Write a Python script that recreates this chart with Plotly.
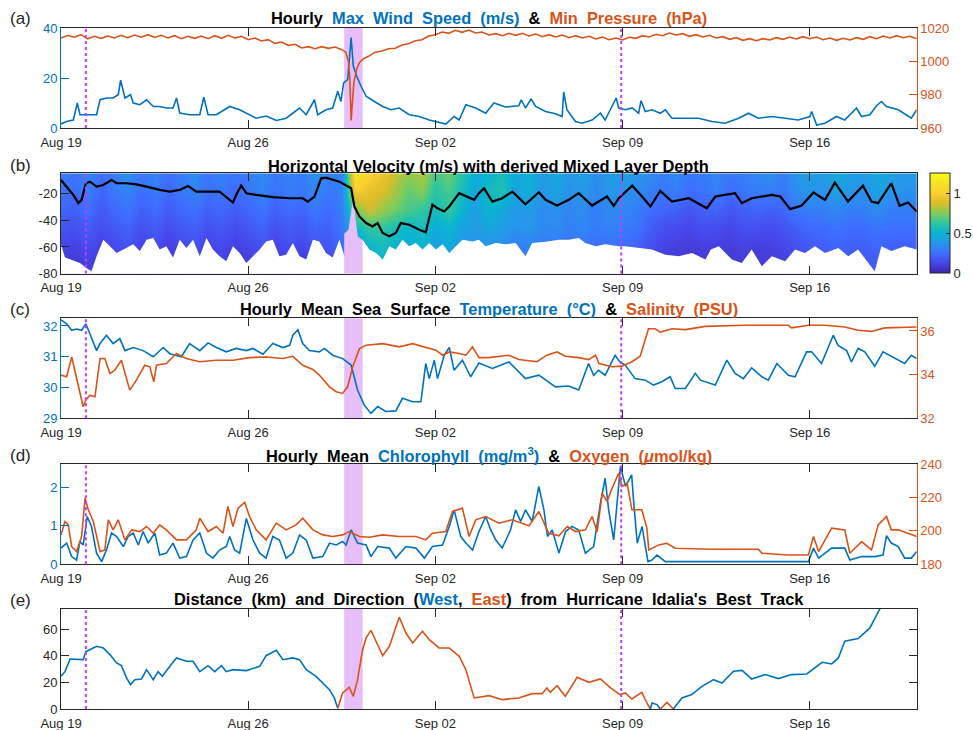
import pandas as pd
import plotly.graph_objects as go

# ---------------- DATA (time in days since 2023-08-19 00:00) ----------------
wind_t = [0,0.21,0.46,0.61,0.71,0.93,1.33,1.46,1.70,1.95,2.14,2.23,2.39,2.60,2.70,2.95,3.20,3.45,3.69,3.94,
          4.19,4.32,4.44,4.81,5.19,5.34,5.50,5.81,6.31,6.68,7.05,7.30,7.67,8.05,8.42,8.92,9.17,9.48,9.60,9.91,
          10.16,10.35,10.47,10.57,10.72,10.85,10.93,11.06,11.22,11.41,11.72,12.03,12.34,12.65,13.02,13.40,13.77,14.02,14.39,14.70,
          14.89,15.14,15.51,15.88,16.19,16.62,17.12,17.21,17.37,17.58,17.75,18.12,18.49,18.74,18.80,18.92,19.24,19.49,19.86,20.17,
          20.35,20.54,20.76,20.86,21.11,21.36,21.60,21.69,21.85,22.10,22.41,22.60,22.85,23.35,23.84,24.34,24.84,25.34,25.71,26.08,
          26.58,27.08,27.57,28.01,28.07,28.26,28.57,29.00,29.31,29.75,29.94,30.25,30.50,30.68,30.87,31.31,31.68,31.80,32.0]
wind_v = [1.6,2.6,3.2,10,5.3,5.3,5.3,11.3,12,12,13.3,19.1,12,13.3,10,9.3,11.3,8.6,8.6,8,
          8,12,6,5.3,5.3,12.3,5.3,5.3,8.6,7.3,5.3,3.9,4.8,3.0,3.9,8,5.3,11.3,5.3,7.3,
          8,14.7,10.6,18,19.4,36.2,24.8,20.7,16.7,12.7,10.6,8.6,7.3,8,5.3,4.6,3.2,2.6,1.6,4.6,
          3.2,9.3,8,5.9,10,8.4,8.9,11.3,8,11.6,8.6,6.6,5.7,4.6,14.4,7.3,2.6,1.9,3.2,5.9,
          3.2,7.3,12,8,7.3,8,5.9,10.9,6.6,7.3,5.9,7.3,3.9,3.9,3.9,2.6,1.9,3.9,5.9,3.9,
          4.6,3.9,3.2,4.6,6.6,1.2,1.9,4.6,3.2,8,4.6,5.3,8.9,10.6,8.6,7.3,4.6,3.9,7.3]

pres_t = [0,0.25,0.5,0.75,1.0,1.25,1.5,1.75,2.0,2.25,2.5,2.75,3.0,3.25,3.5,3.75,4.0,4.25,4.5,4.75,
          5.0,5.25,5.5,5.75,6.0,6.25,6.5,6.75,7.0,7.25,7.5,7.75,8.0,8.25,8.5,8.75,9.0,9.25,9.5,9.75,
          10.0,10.25,10.5,10.65,10.75,10.8,10.85,10.9,10.95,11.05,11.15,11.3,11.5,11.75,12.0,12.25,12.5,12.75,13.0,13.25,
          13.5,13.75,14.0,14.25,14.5,14.75,15.0,15.25,15.5,15.75,16.0,16.25,16.5,16.75,17.0,17.25,17.5,17.75,18.0,18.25,
          18.5,18.75,19.0,19.25,19.5,19.75,20.0,20.25,20.5,20.75,21.0,21.25,21.5,21.75,22.0,22.25,22.5,22.75,23.0,23.25,
          23.5,23.75,24.0,24.25,24.5,24.75,25.0,25.25,25.5,25.75,26.0,26.25,26.5,26.75,27.0,27.25,27.5,27.75,28.0,28.25,
          28.5,28.75,29.0,29.25,29.5,29.75,30.0,30.25,30.5,30.75,31.0,31.25,31.5,31.75,32.0]
pres_v = [1014.0,1015.5,1014.5,1016.0,1013.5,1015.0,1013.8,1015.2,1014.0,1015.6,1014.2,1015.8,1014.5,1016.0,1014.3,1015.6,1014.0,1015.4,1013.6,1015.0,
          1013.8,1015.2,1013.6,1015.4,1013.8,1015.6,1014.0,1015.0,1013.0,1014.0,1012.2,1013.0,1010.8,1011.6,1009.6,1010.2,1008.0,1008.8,1007.6,1008.8,
          1007.8,1008.6,1007.0,1005.5,1000.0,990.0,964.5,975.0,987.0,995.0,999.0,1001.5,1003.0,1005.5,1006.2,1007.6,1007.8,1009.8,1010.6,1012.4,
          1013.0,1015.2,1016.0,1017.6,1016.8,1018.6,1017.4,1018.8,1017.0,1017.6,1015.8,1016.6,1015.4,1016.8,1015.6,1016.8,1015.2,1016.4,1014.8,1016.0,
          1014.6,1015.8,1014.2,1015.4,1014.0,1015.0,1013.4,1014.6,1013.0,1014.0,1012.8,1014.4,1013.8,1015.4,1014.6,1016.2,1015.4,1017.0,1015.8,1016.6,
          1015.0,1016.0,1014.6,1015.6,1014.0,1014.8,1013.2,1014.2,1012.6,1013.6,1012.4,1013.6,1012.8,1014.2,1013.2,1014.6,1013.4,1014.8,1013.6,1014.6,
          1013.0,1014.0,1012.6,1013.8,1012.8,1014.2,1013.2,1014.8,1013.6,1015.2,1014.0,1015.4,1014.2,1015.0,1013.6]

# Horizontal velocity grid (m/s): columns every 12 h from day 0 to 32, rows = depths
vel_depth = [-4, -18, -32, -46, -60, -74]
vel = [
 [0.30,0.26,0.34,0.24,0.30,0.36,0.27,0.32,0.25,0.30,0.34,0.27,0.31,0.26,0.30,0.35,0.27,0.32,0.29,0.36,0.31,0.30,
  1.15,1.02,0.95,0.85,0.78,0.82,0.66,0.72,0.60,0.47,0.50,0.55,0.45,0.48,0.40,0.45,0.38,0.42,0.35,0.40,0.42,0.38,
  0.36,0.30,0.34,0.28,0.30,0.33,0.28,0.30,0.32,0.35,0.30,0.38,0.42,0.40,0.46,0.42,0.40,0.45,0.42,0.40,0.40],
 [0.27,0.24,0.30,0.22,0.28,0.32,0.25,0.29,0.23,0.28,0.31,0.25,0.28,0.24,0.27,0.32,0.25,0.29,0.27,0.33,0.28,0.30,
  0.98,0.92,0.88,0.80,0.70,0.76,0.60,0.66,0.55,0.44,0.55,0.58,0.42,0.47,0.37,0.44,0.35,0.39,0.33,0.38,0.37,0.34,
  0.30,0.27,0.30,0.24,0.26,0.30,0.24,0.27,0.30,0.30,0.27,0.35,0.38,0.36,0.42,0.38,0.36,0.42,0.38,0.36,0.36],
 [0.22,0.20,0.25,0.18,0.23,0.27,0.20,0.24,0.19,0.23,0.26,0.20,0.23,0.19,0.22,0.27,0.20,0.24,0.22,0.28,0.24,0.30,
  0.72,0.86,0.78,0.72,0.66,0.62,0.55,0.62,0.50,0.40,0.50,0.45,0.38,0.40,0.34,0.36,0.32,0.34,0.30,0.34,0.32,0.30,
  0.25,0.22,0.20,0.17,0.20,0.22,0.17,0.20,0.22,0.20,0.22,0.28,0.30,0.30,0.33,0.30,0.30,0.34,0.30,0.30,0.30],
 [0.17,0.15,0.19,0.14,0.18,0.21,0.15,0.19,0.14,0.18,0.20,0.15,0.18,0.14,0.17,0.21,0.15,0.19,0.17,0.22,0.20,0.28,
  0.50,0.62,0.62,0.56,0.50,0.55,0.45,0.50,0.42,0.40,0.44,0.40,0.36,0.38,0.33,0.34,0.30,0.33,0.29,0.31,0.29,0.27,
  0.20,0.15,0.14,0.12,0.15,0.14,0.12,0.15,0.15,0.14,0.16,0.20,0.23,0.24,0.26,0.24,0.24,0.27,0.25,0.25,0.25],
 [0.12,0.10,0.14,0.10,0.13,0.16,0.11,0.14,0.10,0.13,0.15,0.11,0.13,0.10,0.12,0.16,0.11,0.14,0.12,0.17,0.16,0.25,
  0.40,0.50,0.55,0.50,0.46,0.50,0.42,0.45,0.38,0.35,0.36,0.34,0.30,0.32,0.28,0.28,0.25,0.28,0.24,0.26,0.24,0.21,
  0.15,0.11,0.10,0.09,0.10,0.10,0.09,0.11,0.10,0.10,0.12,0.15,0.19,0.20,0.22,0.20,0.20,0.22,0.21,0.20,0.20],
 [0.09,0.08,0.10,0.08,0.10,0.12,0.08,0.11,0.08,0.10,0.12,0.08,0.10,0.08,0.09,0.12,0.08,0.11,0.09,0.13,0.12,0.20,
  0.32,0.42,0.48,0.44,0.40,0.44,0.36,0.40,0.33,0.30,0.31,0.28,0.25,0.26,0.23,0.23,0.20,0.23,0.19,0.21,0.19,0.17,
  0.12,0.09,0.08,0.07,0.08,0.08,0.07,0.09,0.08,0.08,0.10,0.12,0.16,0.17,0.18,0.17,0.17,0.19,0.18,0.17,0.17],
]

# deepest valid velocity bin (m)
valid_t = [0,0.15,0.34,0.71,0.96,1.14,1.33,1.58,1.83,2.08,2.33,2.70,2.95,3.20,3.45,3.69,3.94,4.19,4.44,4.69,
           4.94,5.19,5.44,5.68,5.93,6.18,6.43,6.68,6.93,7.18,7.43,7.67,7.92,8.17,8.42,8.67,8.92,9.17,9.42,9.66,
           9.91,10.16,10.41,10.60,10.80,11.00,11.28,11.53,11.78,12.03,12.28,12.52,12.77,13.02,13.27,13.52,13.77,14.02,14.27,14.52,
           14.76,15.01,15.39,15.63,15.88,16.26,16.63,17.0,17.37,17.62,18.12,18.62,18.99,19.36,19.61,20.0,20.35,20.86,21.1,21.6,
           22.1,22.6,23.1,23.6,24.1,24.3,24.6,25.09,25.46,25.83,26.21,26.58,27.08,27.45,27.82,28.2,28.57,29.07,29.44,29.81,
           30.31,30.43,30.68,31.05,31.55,32.0]
valid_v = [-58,-68,-69.5,-72,-76,-78.3,-67,-54.5,-59.5,-64.5,-62,-58,-63,-54.5,-53.3,-62,-59.5,-68,-54.5,-60.8,
           -54.5,-67,-53.3,-62,-67,-70.8,-59.5,-64.5,-72,-67,-62,-55.8,-54.5,-67,-65.8,-57,-67,-69.5,-54.5,-55.8,
           -64.5,-68,-54.5,-67,-60,-60,-54.5,-62,-64.5,-69.5,-59.5,-62,-54.5,-59.5,-57,-62,-57,-62,-58,-64.5,
           -59.5,-54.5,-55.8,-54.5,-59.5,-57,-58,-57,-67,-57,-56,-54.5,-54.5,-53.3,-57,-59.5,-58,-59.5,-59.5,-60.8,
           -62,-65.8,-67,-64.5,-69.5,-62,-59.5,-69.5,-72,-62,-74.5,-67,-70.8,-62,-64.5,-59.5,-64.5,-60.8,-67,-62,
           -74.5,-78.3,-59.5,-63,-59.5,-62]

# data gap during storm passage (top of gap)
gap_t = [10.59, 10.75, 10.86, 10.93, 11.0, 11.1, 11.28]
gap_v = [-50, -47, -32, -22, -36, -52, -55]

mld_t = [0,0.21,0.46,0.65,0.77,0.93,1.08,1.33,1.58,1.89,2.08,2.45,2.82,3.20,3.69,4.07,4.44,4.75,5.06,5.44,
         5.93,6.43,6.58,6.74,6.93,7.30,7.92,8.55,9.04,9.23,9.48,9.73,9.91,10.41,10.66,10.85,10.97,11.16,11.41,11.65,
         11.84,12.03,12.28,12.52,12.71,13.02,13.40,13.64,13.89,14.08,14.33,14.52,14.89,15.14,15.45,15.63,15.82,16.13,16.50,16.88,
         17.37,17.87,18.12,18.55,18.99,19.36,19.86,20.42,20.67,20.86,21.36,21.73,22.04,22.41,22.85,23.48,24.15,24.47,25.21,25.46,
         25.83,26.58,26.90,27.27,27.70,28.14,28.57,28.94,29.43,29.99,30.31,30.56,31.05,31.36,31.68,32.0]
mld_v = [-9.5,-14.5,-20.8,-27,-24.5,-12,-10.8,-14.5,-13.3,-9.5,-12,-12,-12.8,-14.5,-17,-18.3,-17,-14,-18.3,-18.3,
         -18.3,-26.5,-19.5,-13.8,-19.5,-20.8,-22.5,-23.3,-23.3,-25.8,-22,-8.3,-7.8,-10.8,-13.3,-15.8,-29.5,-37,-42,-44.5,
         -42,-49.5,-52,-49.5,-42,-43.3,-47,-49,-28.3,-30.8,-33.3,-29.5,-19.5,-22,-24.5,-19.5,-15.8,-25.8,-23.3,-18.3,
         -27.8,-18.8,-24.5,-28.8,-24.5,-19.5,-28.8,-22,-29,-23.3,-13.8,-22,-29.5,-17.8,-25.8,-23.3,-30.8,-22,-19.5,-27,
         -23.3,-20.8,-22,-31.5,-28.8,-19,-24.5,-11.5,-25.8,-13.8,-25.8,-27,-12,-29,-26.5,-33.3]

temp_t = [0,0.21,0.40,0.58,0.77,0.93,1.08,1.33,1.46,1.70,1.95,2.20,2.39,2.70,3.07,3.45,3.82,4.07,4.50,4.81,
          5.19,5.50,5.81,6.18,6.55,6.93,7.18,7.55,7.92,8.30,8.55,8.67,8.86,9.04,9.29,9.66,9.85,10.16,10.53,10.85,
          11.09,11.34,11.59,11.84,12.15,12.52,12.77,13.15,13.46,13.64,13.77,13.96,14.08,14.33,14.52,14.70,15.01,15.32,15.63,16.13,
          16.75,17.37,17.87,18.49,18.98,19.36,19.73,19.92,20.10,20.35,20.72,20.90,21.10,21.47,21.85,22.16,22.47,22.78,22.97,23.35,
          23.72,23.91,24.47,24.90,25.21,25.52,25.83,26.21,26.45,26.77,27.20,27.45,27.88,28.07,28.44,28.88,29.06,29.38,29.56,29.81,
          30.06,30.43,30.74,31.18,31.55,31.80,32.0]
temp_v = [32.2,32.07,31.86,31.9,31.86,32.07,31.75,31.2,31.43,31.7,31.43,31.59,31.2,31.3,31.2,31.0,31.3,31.1,31.0,31.43,
          31.2,31.45,31.3,31.16,31.27,31.2,31.27,31.08,31.43,31.3,31.37,31.7,31.88,31.43,31.2,31.16,31.27,31.05,30.94,30.73,
          29.92,29.43,29.16,29.38,29.22,29.24,29.65,29.54,29.54,30.78,30.29,30.89,30.29,31.05,31.3,30.56,30.89,30.35,30.8,30.62,
          30.83,30.29,30.4,30.02,30.05,29.92,30.78,30.4,30.56,30.4,31.05,30.83,30.73,30.29,30.24,30.08,30.19,30.35,29.97,29.97,
          30.46,30.24,30.08,30.89,30.46,30.29,30.64,30.35,30.24,30.78,30.4,30.35,31.16,31.16,30.78,31.7,31.37,31.2,30.83,31.27,
          31.16,30.69,31.16,30.94,30.78,31.05,30.94]

sal_t = [0,0.21,0.40,0.58,0.83,0.93,1.08,1.27,1.46,1.64,1.83,2.01,2.26,2.57,2.82,3.13,3.32,3.47,3.57,3.94,
         4.32,4.69,5.19,5.81,6.43,7.05,7.67,8.30,8.67,9.04,9.42,9.66,10.04,10.29,10.53,10.72,10.91,11.16,11.41,12.03,
         12.65,13.15,13.64,14.02,14.27,14.52,14.89,15.14,15.39,15.63,16.0,16.75,17.12,17.80,18.17,18.55,18.86,19.36,19.73,19.99,
         20.12,20.61,20.98,21.35,21.66,21.79,21.97,22.22,22.41,22.85,23.35,24.09,25.58,27.2,27.32,27.95,28.57,29.31,29.81,30.31,
         30.80,32.0]
sal_v = [33.98,33.9,34.81,33.9,32.53,32.84,33.06,32.99,34.74,34.74,34.05,34.2,34.66,33.29,33.75,34.43,34.36,33.67,34.43,34.51,
         34.97,34.74,34.59,34.66,34.66,34.78,34.81,34.74,34.84,34.43,34.24,33.98,33.44,33.22,33.14,33.44,34.36,35.19,35.35,35.42,
         35.27,35.42,35.27,35.12,34.89,35.04,34.97,34.89,35.27,34.78,34.78,34.89,34.69,34.59,34.89,35.04,34.84,34.78,34.69,34.89,
         34.51,34.36,34.39,34.59,34.84,35.42,36.1,36.1,35.95,36.1,36.06,36.21,36.26,36.26,36.14,36.26,36.26,36.18,36.03,35.98,
         36.14,36.18]

chl_t = [0,0.21,0.40,0.58,0.71,0.83,0.98,1.14,1.33,1.52,1.70,1.89,2.08,2.33,2.51,2.70,2.89,3.07,3.26,3.51,
         3.69,3.94,4.19,4.44,4.69,4.94,5.19,5.44,5.68,5.93,6.18,6.31,6.49,6.68,6.93,7.18,7.43,7.67,7.92,8.17,
         8.42,8.67,8.92,9.17,9.42,9.79,10.04,10.29,10.53,10.66,10.85,11.09,11.41,11.59,11.84,12.28,12.52,12.90,13.27,13.59,
         13.89,14.27,14.52,14.70,14.95,15.14,15.39,15.63,15.88,16.07,16.26,16.50,16.81,17.0,17.19,17.37,17.62,17.87,18.06,18.19,
         18.37,18.62,18.87,19.11,19.36,19.61,19.92,20.17,20.35,20.48,20.67,20.80,20.92,21.11,21.34,21.42,21.55,21.73,21.85,21.95,
         22.10,22.29,22.60,24.34,26.83,27.95,28.14,28.33,28.82,29.31,29.50,29.94,30.43,30.74,30.87,31.05,31.31,31.55,31.80,32.0]
chl_v = [0.42,0.55,0.2,0.11,0.59,0.5,1.24,0.98,0.29,0.07,0.37,0.81,0.72,0.46,0.72,0.81,0.5,0.85,0.55,0.81,
         0.24,0.29,0.55,0.16,0.2,0.63,0.81,0.29,0.16,0.37,0.46,0.72,0.37,0.29,1.19,0.63,0.29,0.16,0.72,0.63,
         0.16,0.29,0.76,0.63,0.16,0.2,0.55,0.5,0.59,0.5,0.89,0.55,0.5,0.2,0.46,0.42,0.16,0.46,0.42,0.16,
         0.46,0.5,0.98,1.41,0.72,0.55,0.37,0.85,1.24,0.89,0.63,0.42,0.89,1.41,1.11,1.41,1.11,2.02,1.41,0.72,
         0.89,0.29,0.85,0.98,0.89,0.29,0.46,1.58,2.23,1.41,0.63,1.63,2.54,2.02,2.32,1.58,0.55,0.98,0.46,0.07,
         0.11,0.24,0.07,0.07,0.07,0.07,0.42,0.16,0.42,0.42,0.11,0.2,0.2,0.24,0.74,0.55,0.46,0.16,0.16,0.33]

oxy_t = [0,0.15,0.27,0.40,0.58,0.77,0.90,1.02,1.21,1.46,1.64,1.77,1.95,2.14,2.39,2.64,2.95,3.20,3.45,3.69,
         3.94,4.32,4.69,5.06,5.19,5.50,5.81,6.06,6.24,6.43,6.62,6.87,7.05,7.30,7.67,8.05,8.42,8.79,9.04,9.42,
         9.79,10.16,10.53,10.78,11.16,11.53,12.03,12.65,13.27,13.64,13.89,14.39,14.64,15.01,15.26,15.51,15.88,16.38,16.87,17.25,
         17.50,17.87,18.24,18.62,18.93,19.24,19.61,19.86,20.05,20.24,20.42,20.61,20.86,20.98,21.17,21.35,21.72,21.91,21.98,22.35,
         22.66,22.97,24.34,26.08,26.21,27.20,27.95,28.14,28.33,28.82,29.31,29.50,29.94,30.31,30.56,30.87,31.05,31.31,31.68,32.0]
oxy_v = [197.6,205.6,203.6,190.6,187.6,196.6,219.6,212.6,205.6,187.6,188.6,206.6,200.6,206.6,194.6,200.6,199.6,202.6,198.6,203.6,
         200.6,194.6,194.6,200.6,207.6,199.6,202.6,198.6,214.6,202.6,213.6,217,208.6,200.6,194.6,204.6,200.6,203.6,207.6,200.6,
         197.6,196.6,197.6,199.6,196.6,196.2,197.6,196.6,196.6,194.6,198.6,199.6,211.6,213.6,196.6,206.6,208.6,204.6,206.6,204.6,
         203,211.6,198.6,197,202.6,199.6,200.6,208.6,199.6,222.6,217.6,225.6,234.6,226.6,228.6,212.6,212.6,201.6,188.6,191.6,
         192.6,189.6,189,189,186.6,185.6,185.6,196.6,187.6,201.6,200.6,186.6,193.6,188.6,203.6,208.6,200.6,200.6,198.6,196.6]

dist_t = [0,0.15,0.34,0.58,0.83,0.93,1.08,1.33,1.58,1.83,2.08,2.26,2.45,2.6,2.76,3.01,3.2,3.45,3.63,3.79,
          4.07,4.32,4.69,4.94,5.19,5.5,5.75,6.0,6.18,6.43,6.93,7.43,7.67,8.05,8.3,8.67,8.92,9.17,9.54,9.79,
          10.04,10.22,10.35,
          10.53,10.78,10.93,11.09,11.28,11.41,11.59,11.78,12.03,12.28,12.46,12.65,12.9,13.15,13.52,13.77,14.14,14.52,14.89,15.14,
          15.45,15.76,16.01,16.5,17.12,17.62,17.99,18.17,18.3,18.55,18.86,19.3,19.74,20.17,20.55,20.9,21.1,21.35,21.72,21.91,22.04,
          22.1,22.29,22.41,
          22.66,22.9,
          23.22,23.59,23.97,24.4,24.72,25.15,25.47,25.83,26.33,26.83,27.32,27.89,28.46,28.82,29.07,29.31,29.81,30.25,30.62,30.9]
dist_km = [24.5,28,37.5,37,37,43,44.5,47,45.8,40.8,34.5,32.5,23.3,18.3,22,22.5,29.5,22,28,24.5,
           32,38.3,35.8,35.8,28,32.5,28,32.5,28,29.5,28.8,32,40,44,37,38.3,37,29.5,24.5,19.5,
           14.5,8.3,0.5,
           12,16.3,9.5,22,44.5,53.3,59,50.8,40,47,57,68.8,57,49.5,58.3,52,45.8,45.8,39.5,29.5,
           8.3,9.5,10,7,8.3,11.5,11.5,15.8,12.5,17.5,9.5,23.8,20,22.5,15.8,10.8,12,7.5,12.5,4.5,0,
           4.5,3.3,0,
           5,0,
           8.3,10.8,17,22,19.5,28.3,29,22.5,25.8,22.8,25.8,26.3,35,33.8,38.3,50.8,52.8,60.8,75,82]
dist_side = (['W'] * 43 + ['E'] * 41 + ['W'] * 3 + ['E'] * 2 + ['W'] * 20)

storm_window = [10.59, 11.28]        # shaded: hurricane passage
glider_marks = [0.93, 20.95]         # dotted vertical markers
tick_days = [0, 7, 14, 21, 28]
tick_text = ['Aug 19', 'Aug 26', 'Sep 02', 'Sep 09', 'Sep 16']
x_span_days = [0, 32]

# ---------------- STYLE ----------------
BLUE = '#0072BD'
ORANGE = '#D95319'
DARK = '#262626'
VIOLET = '#E8BEFA'
MAGENTA = '#C03CFF'
FONT = 'Liberation Sans, Arial, Helvetica, sans-serif'
W, H = 973, 730
T0 = pd.Timestamp('2023-08-19')


def dt(days):
    return [T0 + pd.Timedelta(days=float(d)) for d in days]


XDOM = [61 / W, 916.7 / W]
PX = {'a': (28, 128), 'b': (173.3, 273.5), 'c': (318.3, 418.3), 'd': (464, 564.3), 'e': (609, 709)}


def ydom(p):
    top, bot = PX[p]
    return [1 - bot / H, 1 - top / H]


parula = [
    [0.0, 'rgb(62,38,168)'], [0.1, 'rgb(71,71,235)'], [0.2, 'rgb(62,111,255)'],
    [0.3, 'rgb(39,150,235)'], [0.4, 'rgb(8,181,208)'], [0.5, 'rgb(49,198,159)'],
    [0.6, 'rgb(129,204,89)'], [0.7, 'rgb(220,189,41)'], [0.8, 'rgb(252,207,48)'],
    [0.9, 'rgb(245,228,36)'], [1.0, 'rgb(249,251,21)'],
]

fig = go.Figure()
LW = 1.6

# (a)
fig.add_trace(go.Scatter(x=dt(wind_t), y=wind_v, xaxis='x', yaxis='y', mode='lines',
                         line=dict(color=BLUE, width=LW), hoverinfo='skip'))
fig.add_trace(go.Scatter(x=dt(pres_t), y=pres_v, xaxis='x', yaxis='y6', mode='lines',
                         line=dict(color=ORANGE, width=LW), hoverinfo='skip'))

# (b)
vel_days = [i * 0.5 for i in range(len(vel[0]))]
fig.add_trace(go.Heatmap(x=dt(vel_days), y=vel_depth, z=vel, xaxis='x2', yaxis='y2',
                         colorscale=parula, zmin=0, zmax=1.25, zsmooth='best', hoverinfo='skip',
                         colorbar=dict(x=930 / W, xanchor='left', xpad=0, ypad=0,
                                       y=1 - (PX['b'][0] + PX['b'][1]) / 2 / H, yanchor='middle',
                                       len=PX['b'][1] - PX['b'][0], lenmode='pixels',
                                       thickness=20, thicknessmode='pixels',
                                       outlinewidth=1, outlinecolor=DARK,
                                       tickvals=[0, 0.5, 1], ticktext=['0', '0.5', '1'],
                                       ticks='inside', ticklen=4, tickcolor=DARK,
                                       tickfont=dict(size=13, color=DARK, family=FONT))))
fig.add_trace(go.Scatter(x=dt([valid_t[0] - 1]) + dt(valid_t) + dt([valid_t[-1] + 1, valid_t[-1] + 1, valid_t[0] - 1]),
                         y=[valid_v[0]] + valid_v + [valid_v[-1], -95, -95],
                         xaxis='x2', yaxis='y2', mode='lines', fill='toself', fillcolor='white',
                         line=dict(width=0, color='white'), hoverinfo='skip'))
fig.add_trace(go.Scatter(x=dt(gap_t) + dt([gap_t[-1], gap_t[0]]), y=gap_v + [-95, -95],
                         xaxis='x2', yaxis='y2', mode='lines', fill='toself', fillcolor=VIOLET,
                         line=dict(width=0, color=VIOLET), hoverinfo='skip'))
fig.add_trace(go.Scatter(x=dt(mld_t), y=mld_v, xaxis='x2', yaxis='y2', mode='lines',
                         line=dict(color='black', width=2.2), hoverinfo='skip'))

# (c)
fig.add_trace(go.Scatter(x=dt(temp_t), y=temp_v, xaxis='x3', yaxis='y3', mode='lines',
                         line=dict(color=BLUE, width=LW), hoverinfo='skip'))
fig.add_trace(go.Scatter(x=dt(sal_t), y=sal_v, xaxis='x3', yaxis='y7', mode='lines',
                         line=dict(color=ORANGE, width=LW), hoverinfo='skip'))

# (d)
fig.add_trace(go.Scatter(x=dt(chl_t), y=chl_v, xaxis='x4', yaxis='y4', mode='lines',
                         line=dict(color=BLUE, width=LW), hoverinfo='skip'))
fig.add_trace(go.Scatter(x=dt(oxy_t), y=oxy_v, xaxis='x4', yaxis='y8', mode='lines',
                         line=dict(color=ORANGE, width=LW), hoverinfo='skip'))

# (e) split by direction
segs = []
cur = None
for t, v, s in zip(dist_t, dist_km, dist_side):
    if cur is None or s != cur[0]:
        prev = (cur[1][-1], cur[2][-1]) if cur is not None else None
        cur = [s, [], []]
        if prev is not None:
            cur[1].append(prev[0]); cur[2].append(prev[1])
        segs.append(cur)
    cur[1].append(t); cur[2].append(v)
for s, ts, vs in segs:
    fig.add_trace(go.Scatter(x=dt(ts), y=vs, xaxis='x5', yaxis='y5', mode='lines',
                             line=dict(color=BLUE if s == 'W' else ORANGE, width=LW), hoverinfo='skip'))

# ---------------- AXES ----------------
xr = dt(x_span_days)
tv = dt(tick_days)
common_x = dict(domain=XDOM, range=xr, type='date', tickvals=tv, ticktext=tick_text,
                ticks='inside', ticklen=8, tickwidth=1, tickcolor=DARK, showline=True,
                linecolor=DARK, linewidth=1, mirror='ticks', showgrid=False, zeroline=False,
                ticklabelstandoff=2,
                tickfont=dict(size=13, color=DARK, family=FONT))


def yax(p, rng, vals, color, side='left', overlay=None, anchor='x', mirror=False, text=None):
    d = dict(domain=ydom(p), range=rng, tickvals=vals, ticks='inside', ticklen=8, tickwidth=1,
             tickcolor=color, showline=True, linecolor=color, linewidth=1, mirror=mirror,
             showgrid=False, zeroline=False, side=side, anchor=anchor,
             tickfont=dict(size=13, color=color, family=FONT))
    if text is not None:
        d['ticktext'] = text
    if overlay:
        d['overlaying'] = overlay
        d.pop('domain')
    return d


layout = dict(
    width=W, height=H, margin=dict(l=0, r=0, t=0, b=0, autoexpand=False),
    paper_bgcolor='white', plot_bgcolor='white', showlegend=False,
    font=dict(family=FONT, color=DARK),
    xaxis=dict(common_x, anchor='y'),
    xaxis2=dict(common_x, anchor='y2'),
    xaxis3=dict(common_x, anchor='y3'),
    xaxis4=dict(common_x, anchor='y4'),
    xaxis5=dict(common_x, anchor='y5'),
    yaxis=yax('a', [0, 40], [0, 20, 40], BLUE, anchor='x'),
    yaxis6=yax('a', [960, 1020], [960, 980, 1000, 1020], ORANGE, side='right', overlay='y', anchor='x'),
    yaxis2=yax('b', [-80, -4.5], [-80, -60, -40, -20], DARK, anchor='x2', mirror=True,
               text=['-80', '-60', '-40', '-20']),
    yaxis3=yax('c', [29, 32.25], [29, 30, 31, 32], BLUE, anchor='x3'),
    yaxis7=yax('c', [32, 36.58], [32, 34, 36], ORANGE, side='right', overlay='y3', anchor='x3'),
    yaxis4=yax('d', [0, 2.6], [0, 1, 2], BLUE, anchor='x4'),
    yaxis8=yax('d', [180, 240], [180, 200, 220, 240], ORANGE, side='right', overlay='y4', anchor='x4'),
    yaxis5=yax('e', [0, 75], [0, 20, 40, 60], DARK, anchor='x5', mirror='ticks'),
)

shapes = []
panel_refs = [('x', 'y'), ('x2', 'y2'), ('x3', 'y3'), ('x4', 'y4'), ('x5', 'y5')]
for xref, yref in panel_refs:
    if xref != 'x2':
        shapes.append(dict(type='rect', xref=xref, yref=yref + ' domain',
                           x0=dt([storm_window[0]])[0], x1=dt([storm_window[1]])[0], y0=0, y1=1,
                           fillcolor=VIOLET, line=dict(width=0), layer='below'))
    for m in glider_marks:
        shapes.append(dict(type='line', xref=xref, yref=yref + ' domain',
                           x0=dt([m])[0], x1=dt([m])[0], y0=0, y1=1,
                           line=dict(color=MAGENTA, width=2, dash='dot'), layer='above'))
layout['shapes'] = shapes

S = '\u00a0\u00a0'


def span(c, words):
    return '<span style="color:%s">%s</span>' % (c, S.join(words))


titles = [
    ('a', '<b>' + S.join(['Hourly', span(BLUE, ['Max', 'Wind', 'Speed', '(m/s)']), '&amp;',
                          span(ORANGE, ['Min', 'Pressure', '(hPa)'])]) + '</b>'),
    ('b', '<b>Horizontal Velocity (m/s) with derived Mixed Layer Depth</b>'),
    ('c', '<b>' + S.join(['Hourly', 'Mean', 'Sea', 'Surface', span(BLUE, ['Temperature', '(°C)']), '&amp;',
                          span(ORANGE, ['Salinity', '(PSU)'])]) + '</b>'),
    ('d', '<b>' + S.join(['Hourly', 'Mean', span(BLUE, ['Chlorophyll', '(mg/m<sup>3</sup>)']), '&amp;',
                          span(ORANGE, ['Oxygen', '(<i>μ</i>mol/kg)'])]) + '</b>'),
    ('e', '<b>' + S.join(['Distance', '(km)', 'and', 'Direction',
                          '(' + span(BLUE, ['West']) + ',', span(ORANGE, ['East']) + ')',
                          'from', 'Hurricane', "Idalia's", 'Best', 'Track']) + '</b>'),
]
title_y = {'a': 18, 'b': 165.5, 'c': 308.5, 'd': 454.5, 'e': 599}
label_y = {'a': 19, 'b': 165, 'c': 309, 'd': 455.5, 'e': 600.5}
ann = []
for p, txt in titles:
    ann.append(dict(xref='paper', yref='paper', x=(XDOM[0] + XDOM[1]) / 2, y=1 - title_y[p] / H,
                    text=txt, showarrow=False, xanchor='center', yanchor='middle',
                    font=dict(size=16.4, color='black', family=FONT)))
    ann.append(dict(xref='paper', yref='paper', x=20 / W, y=1 - label_y[p] / H,
                    text='(%s)' % p, showarrow=False, xanchor='center', yanchor='middle',
                    font=dict(size=17, color=DARK, family=FONT)))
layout['annotations'] = ann

fig.update_layout(**layout)
fig.write_html('out.html')
